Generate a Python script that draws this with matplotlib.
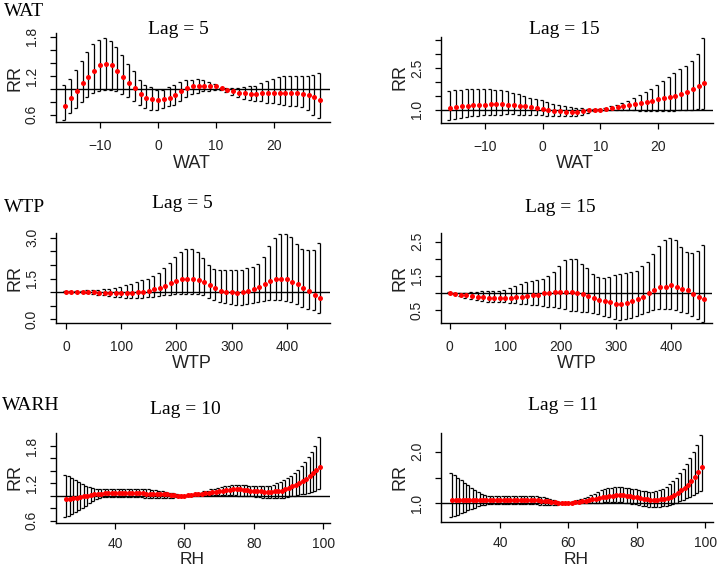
"""Exposure-response curves (RR with 95% CI) for WAT, WTP and WARH at selected lags."""

import matplotlib

matplotlib.use("Agg")
import matplotlib.pyplot as plt
import numpy as np

W, H = 719, 567
SANS = "Liberation Sans"
SERIF = "Liberation Serif"

# ---- WAT ----
wat_x = np.arange(-16, 29)
wat5_fit = [0.74, 0.86, 0.97, 1.09, 1.18, 1.28, 1.36, 1.38, 1.36, 1.28,
            1.19, 1.09, 1.02, 0.92, 0.86, 0.84, 0.83, 0.84, 0.86, 0.90,
            0.96, 1.01, 1.04, 1.05, 1.05, 1.05, 1.04, 1.01, 0.98, 0.96,
            0.94, 0.93, 0.92, 0.92, 0.94, 0.94, 0.94, 0.94, 0.94, 0.94,
            0.94, 0.92, 0.90, 0.87, 0.83]
wat5_hi = [1.06, 1.15, 1.29, 1.43, 1.56, 1.69, 1.75, 1.79, 1.74, 1.65,
           1.52, 1.38, 1.27, 1.14, 1.06, 1.03, 0.99, 0.99, 1.03, 1.06,
           1.11, 1.14, 1.14, 1.15, 1.14, 1.11, 1.08, 1.02, 1.01, 1.01,
           1.01, 1.03, 1.04, 1.05, 1.09, 1.12, 1.15, 1.18, 1.20, 1.20,
           1.20, 1.20, 1.20, 1.22, 1.24]
wat5_lo = [0.52, 0.63, 0.70, 0.80, 0.88, 0.93, 0.97, 0.99, 0.98, 0.97,
           0.92, 0.87, 0.81, 0.75, 0.70, 0.68, 0.68, 0.70, 0.73, 0.75,
           0.82, 0.88, 0.92, 0.94, 0.96, 0.97, 0.99, 0.99, 0.95, 0.91,
           0.88, 0.85, 0.83, 0.82, 0.81, 0.79, 0.78, 0.77, 0.75, 0.74,
           0.73, 0.72, 0.68, 0.60, 0.55]

wat15_fit = [1.06, 1.08, 1.12, 1.14, 1.16, 1.17, 1.18, 1.20, 1.20, 1.19,
             1.18, 1.16, 1.14, 1.12, 1.10, 1.06, 1.02, 0.99, 0.96, 0.95,
             0.93, 0.93, 0.93, 0.95, 0.98, 0.99, 1.00, 1.02, 1.06, 1.10,
             1.14, 1.17, 1.20, 1.24, 1.28, 1.33, 1.39, 1.42, 1.46, 1.51,
             1.58, 1.65, 1.75, 1.84, 1.96]
wat15_hi = [1.66, 1.70, 1.72, 1.75, 1.75, 1.75, 1.75, 1.75, 1.72, 1.70,
            1.66, 1.60, 1.57, 1.48, 1.42, 1.39, 1.34, 1.27, 1.22, 1.18,
            1.12, 1.10, 1.07, 1.06, 1.04, 1.02, 1.01, 1.05, 1.12, 1.17,
            1.24, 1.30, 1.42, 1.54, 1.63, 1.75, 1.90, 2.02, 2.18, 2.33,
            2.45, 2.57, 2.75, 2.99, 3.58]
wat15_lo = [0.64, 0.66, 0.69, 0.73, 0.76, 0.78, 0.80, 0.81, 0.82, 0.82,
            0.83, 0.83, 0.82, 0.82, 0.82, 0.82, 0.80, 0.78, 0.76, 0.76,
            0.76, 0.76, 0.78, 0.82, 0.88, 0.94, 0.98, 1.00, 1.00, 1.00,
            1.00, 1.00, 0.98, 0.96, 0.94, 0.94, 0.94, 0.94, 0.96, 0.96,
            0.98, 1.00, 1.00, 1.01, 1.02]

# ---- WTP ----
wtp_x = np.arange(0, 470, 10)
wtp5_fit = [1.02, 1.02, 1.02, 1.02, 1.02, 1.00, 0.98, 0.98, 0.97, 0.97,
            0.97, 0.98, 0.98, 0.99, 1.02, 1.05, 1.10, 1.15, 1.23, 1.33,
            1.40, 1.48, 1.48, 1.48, 1.43, 1.38, 1.26, 1.15, 1.06, 1.02,
            0.99, 0.98, 0.99, 1.03, 1.10, 1.20, 1.30, 1.42, 1.48, 1.48,
            1.48, 1.38, 1.30, 1.16, 1.05, 0.88, 0.77]
wtp5_hi = [1.03, 1.03, 1.04, 1.05, 1.07, 1.08, 1.09, 1.10, 1.12, 1.16,
           1.20, 1.25, 1.30, 1.37, 1.43, 1.50, 1.60, 1.72, 1.90, 2.08,
           2.30, 2.48, 2.58, 2.60, 2.48, 2.25, 2.00, 1.85, 1.80, 1.80,
           1.80, 1.82, 1.83, 1.87, 1.93, 2.05, 2.30, 2.70, 2.98, 3.14,
           3.14, 3.02, 2.75, 2.60, 2.55, 2.56, 2.82]
wtp5_lo = [1.01, 1.01, 1.00, 0.99, 0.97, 0.93, 0.90, 0.88, 0.86, 0.84,
           0.82, 0.80, 0.79, 0.79, 0.80, 0.82, 0.84, 0.87, 0.89, 0.91,
           0.93, 0.94, 0.94, 0.93, 0.92, 0.88, 0.80, 0.72, 0.64, 0.60,
           0.57, 0.54, 0.53, 0.55, 0.60, 0.65, 0.68, 0.70, 0.70, 0.70,
           0.68, 0.64, 0.56, 0.47, 0.40, 0.34, 0.22]

wtp15_fit = [1.01, 0.97, 0.95, 0.93, 0.91, 0.89, 0.87, 0.86, 0.86, 0.86,
             0.86, 0.86, 0.89, 0.89, 0.91, 0.93, 0.95, 0.99, 1.01, 1.03,
             1.04, 1.04, 1.02, 1.01, 0.96, 0.91, 0.85, 0.79, 0.76, 0.72,
             0.68, 0.67, 0.71, 0.76, 0.82, 0.89, 0.99, 1.09, 1.16, 1.18,
             1.22, 1.18, 1.12, 1.09, 0.97, 0.89, 0.83]
wtp15_hi = [1.02, 0.99, 0.99, 1.00, 1.02, 1.04, 1.06, 1.05, 1.05, 1.06,
            1.09, 1.15, 1.20, 1.27, 1.32, 1.35, 1.38, 1.42, 1.50, 1.62,
            1.80, 1.97, 2.00, 2.00, 1.85, 1.72, 1.55, 1.47, 1.43, 1.45,
            1.52, 1.55, 1.58, 1.62, 1.65, 1.78, 1.90, 2.15, 2.38, 2.55,
            2.61, 2.55, 2.35, 2.20, 2.18, 2.22, 2.40]
wtp15_lo = [1.00, 0.96, 0.90, 0.86, 0.82, 0.79, 0.76, 0.74, 0.73, 0.72,
            0.72, 0.70, 0.69, 0.68, 0.67, 0.65, 0.64, 0.62, 0.60, 0.58,
            0.55, 0.52, 0.48, 0.46, 0.45, 0.43, 0.40, 0.37, 0.33, 0.30,
            0.25, 0.22, 0.24, 0.27, 0.32, 0.38, 0.45, 0.50, 0.52, 0.52,
            0.52, 0.50, 0.45, 0.40, 0.32, 0.25, 0.15]

# ---- WARH (RH) ----
rh_x = np.arange(26, 100)
rh10_fit = [0.95, 0.95, 0.96, 0.97, 0.98, 0.99, 1.00, 1.01, 1.02, 1.03,
            1.03, 1.04, 1.04, 1.04, 1.04, 1.04, 1.04, 1.04, 1.04, 1.04,
            1.04, 1.04, 1.04, 1.03, 1.03, 1.03, 1.03, 1.02, 1.02, 1.02,
            1.01, 1.01, 1.00, 1.00, 1.00, 1.01, 1.01, 1.02, 1.02, 1.03,
            1.04, 1.05, 1.06, 1.06, 1.07, 1.08, 1.09, 1.09, 1.10, 1.10,
            1.10, 1.09, 1.09, 1.08, 1.08, 1.07, 1.07, 1.06, 1.06, 1.06,
            1.07, 1.07, 1.08, 1.10, 1.12, 1.15, 1.18, 1.21, 1.24, 1.27,
            1.31, 1.36, 1.41, 1.47]
rh10_hi = [1.33, 1.31, 1.28, 1.25, 1.22, 1.19, 1.16, 1.14, 1.12, 1.11,
           1.10, 1.10, 1.10, 1.10, 1.10, 1.10, 1.10, 1.10, 1.10, 1.10,
           1.10, 1.10, 1.10, 1.10, 1.10, 1.09, 1.09, 1.08, 1.07, 1.06,
           1.05, 1.04, 1.02, 1.01, 1.00, 1.01, 1.02, 1.03, 1.04, 1.05,
           1.07, 1.08, 1.10, 1.11, 1.13, 1.14, 1.15, 1.16, 1.17, 1.17,
           1.17, 1.17, 1.17, 1.16, 1.16, 1.16, 1.15, 1.15, 1.16, 1.16,
           1.18, 1.20, 1.22, 1.25, 1.28, 1.32, 1.37, 1.42, 1.48, 1.55,
           1.62, 1.70, 1.80, 1.95]
rh10_lo = [0.66, 0.68, 0.71, 0.74, 0.77, 0.80, 0.84, 0.88, 0.92, 0.95,
           0.97, 0.98, 0.98, 0.98, 0.98, 0.98, 0.98, 0.98, 0.98, 0.98,
           0.98, 0.98, 0.98, 0.97, 0.97, 0.97, 0.97, 0.96, 0.96, 0.96,
           0.96, 0.97, 0.98, 0.99, 1.00, 1.00, 1.00, 1.01, 1.01, 1.01,
           1.01, 1.01, 1.01, 1.01, 1.01, 1.01, 1.01, 1.01, 1.01, 1.01,
           1.00, 1.00, 1.00, 0.99, 0.99, 0.98, 0.98, 0.97, 0.97, 0.97,
           0.97, 0.97, 0.97, 0.97, 0.98, 0.99, 1.00, 1.01, 1.02, 1.03,
           1.04, 1.06, 1.08, 1.10]

rh11_fit = [1.07, 1.07, 1.07, 1.07, 1.07, 1.07, 1.06, 1.06, 1.06, 1.06,
            1.06, 1.06, 1.06, 1.06, 1.06, 1.06, 1.06, 1.06, 1.06, 1.06,
            1.06, 1.06, 1.06, 1.06, 1.06, 1.06, 1.05, 1.05, 1.04, 1.03,
            1.02, 1.01, 1.00, 1.00, 1.00, 1.01, 1.02, 1.03, 1.04, 1.05,
            1.06, 1.08, 1.09, 1.11, 1.12, 1.13, 1.14, 1.15, 1.16, 1.16,
            1.16, 1.15, 1.14, 1.13, 1.12, 1.10, 1.09, 1.08, 1.07, 1.07,
            1.07, 1.08, 1.09, 1.11, 1.13, 1.16, 1.20, 1.25, 1.30, 1.36,
            1.43, 1.51, 1.60, 1.70]
rh11_hi = [1.59, 1.55, 1.50, 1.45, 1.40, 1.35, 1.30, 1.26, 1.22, 1.19,
           1.17, 1.15, 1.14, 1.14, 1.14, 1.14, 1.14, 1.14, 1.14, 1.14,
           1.14, 1.14, 1.14, 1.14, 1.14, 1.14, 1.13, 1.12, 1.11, 1.09,
           1.07, 1.05, 1.02, 1.01, 1.00, 1.02, 1.04, 1.06, 1.08, 1.10,
           1.13, 1.16, 1.19, 1.22, 1.25, 1.27, 1.29, 1.30, 1.31, 1.31,
           1.31, 1.30, 1.29, 1.28, 1.27, 1.25, 1.24, 1.23, 1.22, 1.22,
           1.23, 1.25, 1.28, 1.32, 1.37, 1.43, 1.50, 1.58, 1.67, 1.76,
           1.87, 1.99, 2.13, 2.32]
rh11_lo = [0.73, 0.75, 0.78, 0.81, 0.84, 0.87, 0.90, 0.92, 0.94, 0.96,
           0.97, 0.98, 0.98, 0.98, 0.98, 0.98, 0.98, 0.98, 0.98, 0.98,
           0.98, 0.98, 0.98, 0.98, 0.98, 0.98, 0.97, 0.97, 0.96, 0.96,
           0.96, 0.97, 0.98, 0.99, 1.00, 1.00, 1.00, 1.00, 1.01, 1.01,
           1.01, 1.01, 1.01, 1.01, 1.01, 1.02, 1.02, 1.02, 1.02, 1.02,
           1.02, 1.01, 1.00, 0.99, 0.98, 0.97, 0.95, 0.94, 0.93, 0.93,
           0.93, 0.93, 0.94, 0.95, 0.97, 0.99, 1.01, 1.04, 1.07, 1.10,
           1.13, 1.16, 1.20, 1.24]

wat_xticks = [-10, 0, 10, 20]
wtp_xticks = [0, 100, 200, 300, 400]
rh_xticks = [40, 60, 80, 100]


def px(x, y):
    return x / W, 1 - y / H


def add_axes(fig, left, top, right, bottom):
    return fig.add_axes([left / W, 1 - bottom / H, (right - left) / W, (bottom - top) / H])


def draw_panel(ax, x, fit, lo, hi, xlim, ylim, xticks, yticks, ylabels, xpad=10):
    ax.axhline(1.0, color="black", lw=1.0, zorder=1)
    ax.vlines(x, lo, hi, color="black", lw=0.9, zorder=2)
    for ends in (lo, hi):
        ax.plot(x, ends, ls="none", marker=0, ms=2.5, mew=0.9, color="black", zorder=2)
    ax.plot(x, fit, ls="none", marker="o", ms=3.6, color="#ff0000", mew=0, zorder=3)
    ax.set_xlim(*xlim)
    ax.set_ylim(*ylim)
    ax.set_xticks(xticks)
    ax.set_yticks(yticks)
    ax.set_yticklabels(ylabels, rotation=90, va="center")
    for side in ("top", "right"):
        ax.spines[side].set_visible(False)
    for side in ("left", "bottom"):
        ax.spines[side].set_linewidth(1.0)
    ax.tick_params(axis="both", length=4.3, width=0.9, labelsize=10,
                   labelcolor="#222222")
    ax.tick_params(axis="x", pad=xpad)
    ax.tick_params(axis="y", pad=8)
    for lab in ax.get_xticklabels() + ax.get_yticklabels():
        lab.set_fontfamily(SANS)


fig = plt.figure(figsize=(W / 100, H / 100), dpi=100)

panels = [
    # axes box (l, t, r, b), data, limits, ticks
    ((56, 33, 330, 122), (wat_x, wat5_fit, wat5_lo, wat5_hi), (-17.6, 29.7), (0.49, 1.86),
     wat_xticks, [0.6, 0.8, 1.0, 1.2, 1.4, 1.6, 1.8], ["0.6", "", "", "1.2", "", "", "1.8"], 8),
    ((441, 37, 713, 123), (wat_x, wat15_fit, wat15_lo, wat15_hi), (-17.6, 29.5), (0.52, 3.62),
     wat_xticks, [1.0, 1.5, 2.0, 2.5, 3.0, 3.5], ["1.0", "", "", "2.5", "", ""], 8),
    ((56, 233, 330, 323), (wtp_x, wtp5_fit, wtp5_lo, wtp5_hi), (-18, 478), (-0.13, 3.17),
     wtp_xticks, [0.0, 0.5, 1.0, 1.5, 2.0, 2.5, 3.0], ["0.0", "", "", "1.5", "", "", "3.0"], 8),
    ((441, 233, 712, 323), (wtp_x, wtp15_fit, wtp15_lo, wtp15_hi), (-16, 474), (0.12, 2.75),
     wtp_xticks, [0.5, 1.0, 1.5, 2.0, 2.5], ["0.5", "", "1.5", "", "2.5"], 8),
    ((56, 433, 330, 523), (rh_x, rh10_fit, rh10_lo, rh10_hi), (23.0, 101.9), (0.56, 2.01),
     rh_xticks, [0.6, 0.8, 1.0, 1.2, 1.4, 1.6, 1.8], ["0.6", "", "", "1.2", "", "", "1.8"], 6),
    ((441, 433, 713, 522), (rh_x, rh11_fit, rh11_lo, rh11_hi), (22.7, 102.3), (0.64, 2.36),
     rh_xticks, [1.0, 1.5, 2.0], ["1.0", "", "2.0"], 6),
]

for box, data, xlim, ylim, xticks, yticks, ylabels, xpad in panels:
    ax = add_axes(fig, *box)
    draw_panel(ax, *data, xlim, ylim, xticks, yticks, ylabels, xpad)

# titles (serif, as in the R output)
titles = [("Lag = 5", 178, 29), ("Lag = 15", 564, 29), ("Lag = 5", 182, 203),
          ("Lag = 15", 560, 208), ("Lag = 10", 185, 409), ("Lag = 11", 563, 406)]
for text, x, y in titles:
    fig.text(*px(x, y), text, ha="center", va="center", fontsize=14, family=SERIF)

# row labels
for text, x, y in [("WAT", 4, 11), ("WTP", 4, 207), ("WARH", 2, 405)]:
    fig.text(*px(x, y), text, ha="left", va="center", fontsize=14, family=SERIF)

# axis titles
xlabels = [("WAT", 192, 163, 13), ("WAT", 575, 163, 13), ("WTP", 192, 364, 13),
           ("WTP", 577, 364, 13), ("RH", 192, 559.5, 12.5), ("RH", 576, 559.5, 12.5)]
for text, x, y, size in xlabels:
    fig.text(*px(x, y), text, ha="center", va="center", fontsize=size, family=SANS,
             color="#222222")

for x, y in [(15, 78), (400, 77), (15, 278), (400, 278), (15, 477), (400, 477)]:
    fig.text(*px(x, y), "RR", ha="center", va="center", rotation=90, fontsize=13,
             family=SANS, color="#222222")

fig.savefig("out.png", dpi=100)
